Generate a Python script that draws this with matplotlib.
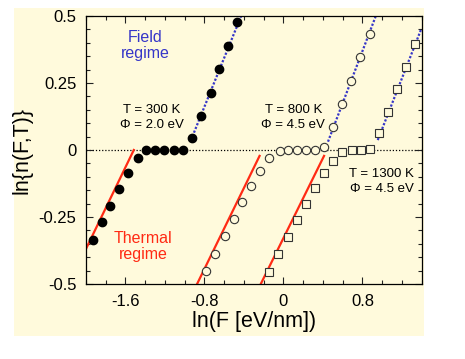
import numpy as np
import matplotlib
matplotlib.use("Agg")
import matplotlib.pyplot as plt
from matplotlib.patches import Rectangle
from matplotlib.ticker import MultipleLocator, FixedLocator

# ── data ────────────────────────────────────────────────────────────
# T = 300 K, Phi = 2.0 eV (filled circles)
x300 = [-1.934, -1.843, -1.752, -1.665, -1.574, -1.478,
        -1.394, -1.300, -1.205, -1.111, -1.020,
        -0.926, -0.834, -0.739, -0.648, -0.557, -0.466]
y300 = [-0.336, -0.270, -0.208, -0.146, -0.086, -0.031,
        0.0, 0.0, 0.0, 0.0, 0.0,
        0.046, 0.127, 0.214, 0.301, 0.388, 0.476]

# T = 800 K, Phi = 4.5 eV (open circles)
x800 = [-0.784, -0.693, -0.597, -0.503, -0.415, -0.324, -0.233, -0.142,
        -0.037, 0.047, 0.138, 0.229, 0.320, 0.411,
        0.506, 0.597, 0.689, 0.780, 0.874]
y800 = [-0.450, -0.387, -0.321, -0.257, -0.195, -0.134, -0.080, -0.030,
        -0.004, 0.0, 0.0, 0.0, 0.0, 0.011,
        0.087, 0.172, 0.257, 0.346, 0.434]

# T = 1300 K, Phi = 4.5 eV (open squares)
x1300 = [-0.146, -0.051, 0.044, 0.135, 0.226, 0.320, 0.411, 0.506,
         0.597, 0.692, 0.783, 0.874,
         0.965, 1.056, 1.147, 1.241, 1.333]
y1300 = [-0.454, -0.389, -0.326, -0.262, -0.201, -0.142, -0.087, -0.040,
         -0.009, 0.0, 0.0, 0.005,
         0.062, 0.142, 0.226, 0.311, 0.397]

# thermal-regime fits (red) and field-regime fits (blue), end points
thermal_x = [(-2.0, -1.516), (-0.875, -0.242), (-0.230, 0.411)]
thermal_y = [(-0.369, 0.0), (-0.5, -0.022), (-0.5, -0.022)]
field_x = [(-0.937, -0.429), (0.451, 0.935), (0.955, 1.398)]
field_y = [(0.037, 0.5), (0.031, 0.5), (0.037, 0.454)]

xticks = [-1.6, -0.8, 0, 0.8]
xtick_labels = ["-1.6", "-0.8", "0", "0.8"]
yticks = [-0.5, -0.25, 0, 0.25, 0.5]
ytick_labels = ["-0.5", "-0.25", "0", "0.25", "0.5"]

CREAM = "#fffadc"
RED = "#ff2a14"
BLUE = "#3636c8"

plt.rcParams["font.family"] = ["Liberation Sans", "DejaVu Sans"]
plt.rcParams["axes.unicode_minus"] = False

fig = plt.figure(figsize=(4.65, 3.59), dpi=100)
fig.patch.set_facecolor("white")
bg = Rectangle((14 / 465, 23 / 359), 410 / 465, 328 / 359,
               transform=fig.transFigure, facecolor=CREAM,
               edgecolor="none", zorder=-10)
fig.add_artist(bg)

ax = fig.add_axes([86 / 465, 75 / 359, 335.7 / 465, 268 / 359])
ax.set_facecolor(CREAM)

ax.axhline(0, color="black", lw=0.9, ls=(0, (1, 1.5)), zorder=1)

for xs, ys in zip(thermal_x, thermal_y):
    ax.plot(xs, ys, color=RED, lw=1.6, zorder=2)
for xs, ys in zip(field_x, field_y):
    ax.plot(xs, ys, color=BLUE, lw=1.6, ls=(0, (1, 0.8)), zorder=2)

ax.plot(x300, y300, "o", ms=6, mfc="black", mec="black", zorder=3)
ax.plot(x800, y800, "o", ms=6, mfc=CREAM, mec="#333333", mew=0.8, zorder=3)
ax.plot(x1300, y1300, "s", ms=6, mfc=CREAM, mec="#333333", mew=0.8, zorder=3)

ax.set_xlim(-2.0, 1.4)
ax.set_ylim(-0.5, 0.5)
ax.xaxis.set_major_locator(FixedLocator(xticks))
ax.xaxis.set_minor_locator(MultipleLocator(0.2))
ax.yaxis.set_major_locator(FixedLocator(yticks))
ax.yaxis.set_minor_locator(MultipleLocator(0.05))
ax.set_xticklabels(xtick_labels)
ax.set_yticklabels(ytick_labels)
ax.tick_params(which="both", direction="in", top=True, right=True,
               labelsize=12, width=0.8, color="#222222")
ax.tick_params(which="major", length=5, pad=7)
ax.tick_params(which="minor", length=3)
for s in ax.spines.values():
    s.set_linewidth(0.9)

ax.set_xlabel("ln(F [eV/nm])", fontsize=15.5, labelpad=2)
ax.set_ylabel("ln{n(F,T)}", fontsize=15.5, labelpad=4)

ax.text(-1.40, 0.39, "Field\nregime", color=BLUE, fontsize=11.5,
        ha="center", va="center", linespacing=1.15)
ax.text(-1.42, -0.36, "Thermal\nregime", color=RED, fontsize=11.5,
        ha="center", va="center", linespacing=1.15)
ax.text(-1.33, 0.12, "T = 300 K\n\u03a6 = 2.0 eV", fontsize=9.5,
        ha="center", va="center", linespacing=1.3)
ax.text(0.10, 0.12, "T = 800 K\n\u03a6 = 4.5 eV", fontsize=9.5,
        ha="center", va="center", linespacing=1.3)
ax.text(1.32, -0.118, "T = 1300 K\n\u03a6 = 4.5 eV", fontsize=9.5,
        ha="right", va="center", linespacing=1.3)

fig.savefig("out.png", dpi=100, facecolor="white")
